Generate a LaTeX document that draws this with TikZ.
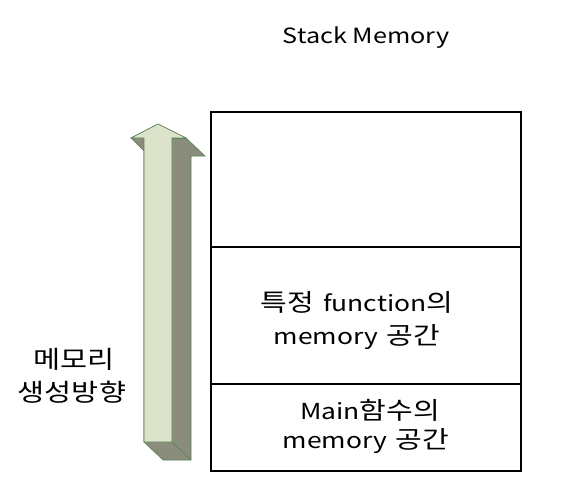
\documentclass[tikz,border=0pt]{standalone}
\usepackage{fontspec}
\setmainfont{Noto Sans CJK KR}[FakeStretch=1.2]
\newfontfamily\krfont{Noto Sans CJK KR}[FakeStretch=1.2,Scale=1.1]
\newcommand{\kr}[1]{{\krfont #1}}
\definecolor{arrfront}{RGB}{221,227,203}
\definecolor{arrside}{RGB}{138,140,124}
\definecolor{arrline}{RGB}{84,130,84}
\begin{document}
\begin{tikzpicture}[x=1pt,y=-1pt,
  lbl/.style={inner sep=0pt,font=\fontsize{22}{26}\selectfont},
  side/.style={inner sep=0pt,font=\fontsize{24.5}{28}\selectfont},
  box/.style={draw=black,line width=1.3pt}]
\useasboundingbox (0,0) rectangle (584,487);
% stack box
\draw[box] (211,112) rectangle (521,471);
\draw[line width=1.3pt] (211,247) -- (521,247);
\draw[line width=1.3pt] (211,384) -- (521,384);
% arrow
\filldraw[fill=arrside,draw=arrline,line width=0.6pt]
  (131,138) -- (144,151) -- (144,442) -- (163,460) -- (191,460) -- (191,156)
  -- (205,156) -- (186,138) -- (158,124) -- cycle;
\draw[arrline,line width=0.6pt] (172,442) -- (191,460);
\draw[arrline,line width=0.6pt] (172,138) -- (186,138);
\filldraw[fill=arrfront,draw=arrline,line width=0.6pt]
  (158,124) -- (186,138) -- (172,138) -- (172,442) -- (144,442) -- (144,138)
  -- (131,138) -- cycle;
% texts
\node[lbl,font=\fontsize{21}{24}\selectfont] (title) at (366,38) {Stack Memory};
\node[lbl] (f1) at (357,302) {\kr{특정}\hspace{3pt} function\kr{의}};
\node[lbl] (f2) at (357,337) {memory\hspace{3pt} \kr{공간}};
\node[lbl] (m1) at (370,410) {Main\kr{함수의}};
\node[lbl] (m2) at (366,441) {memory\hspace{3pt} \kr{공간}};
\node[side] (d1) at (74,359) {메모리};
\node[side] (d2) at (72,392) {생성방향};
\end{tikzpicture}
\end{document}
